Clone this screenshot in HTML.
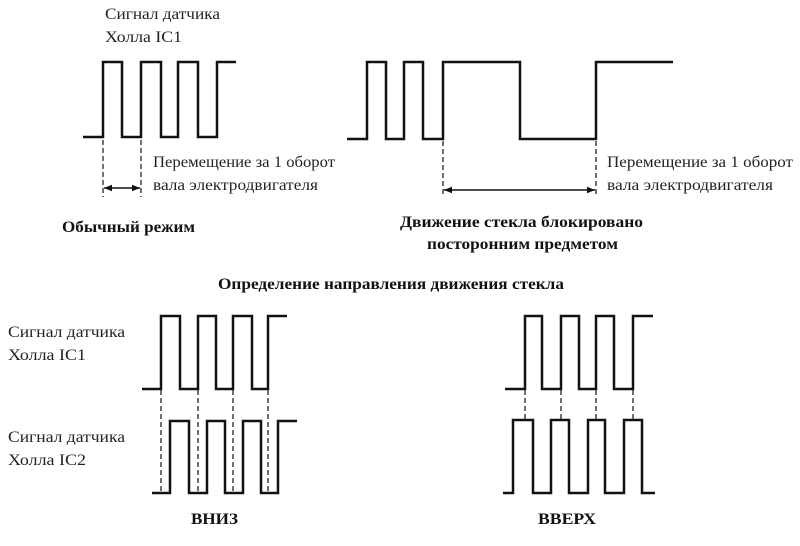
<!DOCTYPE html>
<html><head><meta charset="utf-8"><style>
html,body{margin:0;padding:0;background:#fff;}
svg{display:block}
text{font-family:"Liberation Serif",serif;font-size:16px;fill:#222}
.b{font-weight:bold;fill:#111}
</style></head><body>
<svg width="800" height="546" viewBox="0 0 800 546" xmlns="http://www.w3.org/2000/svg">
<defs>
<marker id="a" viewBox="0 0 10 10" refX="10" refY="5" markerWidth="10" markerHeight="8" orient="auto-start-reverse" markerUnits="userSpaceOnUse"><path d="M0,1 L10,5 L0,9 z" fill="#111"/></marker>
</defs>
<g fill="none" stroke="#111" stroke-width="2.5">
<polyline points="83,137 103,137 103,62 122,62 122,137 141,137 141,62 161,62 161,137 178,137 178,62 198,62 198,137 217,137 217,62 236,62"/>
<polyline points="347,139 367,139 367,62 386,62 386,139 404,139 404,62 423,62 423,139 443,139 443,62 520,62 520,139 596,139 596,62 673,62"/>
<polyline points="142,389 161,389 161,316 180,316 180,389 198,389 198,316 216,316 216,389 233,389 233,316 252,316 252,389 268,389 268,316 287,316"/>
<polyline points="152,493 170,493 170,421 189,421 189,493 207,493 207,421 225,421 225,493 243,493 243,421 261,421 261,493 278,493 278,421 297,421"/>
<polyline points="505,389 525,389 525,316 542,316 542,389 561,389 561,316 579,316 579,389 596,389 596,316 614,316 614,389 633,389 633,316 653,316"/>
<polyline points="503,493 513,493 513,420 533,420 533,493 551,493 551,420 569,420 569,493 588,493 588,420 605,420 605,493 624,493 624,420 642,420 642,493 655,493"/>
</g>
<g stroke="#222" stroke-width="1.3" stroke-dasharray="5,3">
<line x1="103" y1="140" x2="103" y2="197"/><line x1="141" y1="140" x2="141" y2="197"/>
<line x1="443" y1="141" x2="443" y2="197"/><line x1="596" y1="141" x2="596" y2="197"/>
<line x1="161" y1="390" x2="161" y2="493"/><line x1="198" y1="390" x2="198" y2="493"/><line x1="233" y1="390" x2="233" y2="493"/><line x1="268" y1="390" x2="268" y2="493"/>
<line x1="525" y1="390" x2="525" y2="420"/><line x1="561" y1="390" x2="561" y2="420"/><line x1="596" y1="390" x2="596" y2="420"/><line x1="633" y1="390" x2="633" y2="420"/>
</g>
<g stroke="#111" stroke-width="1.5">
<line x1="104" y1="188" x2="140" y2="188" marker-start="url(#a)" marker-end="url(#a)"/>
<line x1="444" y1="190" x2="595" y2="190" marker-start="url(#a)" marker-end="url(#a)"/>
</g>
<text x="105" y="19" textLength="115" lengthAdjust="spacingAndGlyphs">Сигнал датчика</text>
<text x="105" y="42" textLength="77" lengthAdjust="spacingAndGlyphs">Холла IC1</text>
<text x="153" y="167" textLength="182" lengthAdjust="spacingAndGlyphs">Перемещение за 1 оборот</text>
<text x="153" y="190" textLength="165" lengthAdjust="spacingAndGlyphs">вала электродвигателя</text>
<text x="607" y="167" textLength="186" lengthAdjust="spacingAndGlyphs">Перемещение за 1 оборот</text>
<text x="607" y="190" textLength="166" lengthAdjust="spacingAndGlyphs">вала электродвигателя</text>
<text class="b" x="62" y="232" textLength="133" lengthAdjust="spacingAndGlyphs">Обычный режим</text>
<text class="b" x="400" y="227" textLength="243" lengthAdjust="spacingAndGlyphs">Движение стекла блокировано</text>
<text class="b" x="427" y="249" textLength="191" lengthAdjust="spacingAndGlyphs">посторонним предметом</text>
<text class="b" x="218" y="289" textLength="346" lengthAdjust="spacingAndGlyphs">Определение направления движения стекла</text>
<text x="8" y="337" textLength="117" lengthAdjust="spacingAndGlyphs">Сигнал датчика</text>
<text x="8" y="360" textLength="78" lengthAdjust="spacingAndGlyphs">Холла IC1</text>
<text x="8" y="442" textLength="117" lengthAdjust="spacingAndGlyphs">Сигнал датчика</text>
<text x="8" y="465" textLength="78" lengthAdjust="spacingAndGlyphs">Холла IC2</text>
<text class="b" x="191" y="524" textLength="47" lengthAdjust="spacingAndGlyphs">ВНИЗ</text>
<text class="b" x="538" y="524" textLength="58" lengthAdjust="spacingAndGlyphs">ВВЕРХ</text>
</svg>
</body></html>
